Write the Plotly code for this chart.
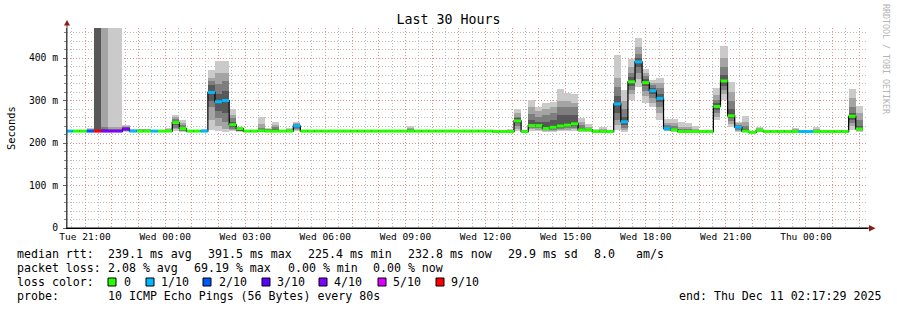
import pandas as pd
import plotly.graph_objects as go

# ---------------- data ----------------
BIN_FIRST = "2025-12-09 20:16:00"   # first 16-minute consolidation bin
BIN_MINUTES = 16

median_ms = [
    228, 228, 228, 228, 228, 228, 228, 228, 233, 228,
    228, 228, 228, 228, 228, 248, 234, 228, 228, 228,
    319, 297, 300, 243, 234, 228, 228, 229, 228, 228,
    228, 228, 240, 228, 228, 228, 228, 228, 228, 228,
    228, 228, 228, 228, 228, 228, 228, 228, 228, 228,
    228, 228, 228, 228, 228, 228, 228, 228, 228, 228,
    227, 227, 227, 252, 227, 241, 241, 234, 237, 240,
    242, 245, 231, 231, 227, 227, 227, 292, 250, 344,
    391, 342, 323, 305, 234, 231, 227, 227, 227, 227,
    227, 286, 346, 264, 237, 228, 225, 230, 227, 227,
    227, 227, 227, 227, 227, 227, 227, 227, 227, 227,
    263, 233,
]

# loss level index per bin: 0 -> "0", 1 -> "1/10", 2 -> "2/10", 3 -> "3/10",
# 4 -> "4/10", 5 -> "5/10", 6 -> "9/10"
loss_level = [
    1, 0, 0, 2, 6, 4, 4, 4, 4, 1,
    0, 0, 1, 0, 0, 0, 0, 0, 0, 1,
    1, 1, 1, 0, 0, 0, 0, 0, 0, 0,
    0, 0, 1, 0, 0, 0, 0, 0, 0, 0,
    0, 0, 0, 0, 0, 0, 0, 0, 0, 0,
    0, 0, 0, 0, 0, 0, 0, 0, 0, 0,
    0, 0, 0, 0, 0, 0, 0, 0, 0, 0,
    0, 0, 0, 0, 0, 0, 0, 1, 1, 0,
    1, 0, 1, 1, 1, 0, 0, 0, 0, 0,
    0, 0, 0, 0, 1, 0, 0, 0, 0, 0,
    0, 0, 0, 1, 1, 0, 0, 0, 0, 0,
    0, 0,
]

# sorted ping values (ms) per bin: 1st,2nd,3rd,4th and 7th,8th,9th,10th of 10
ping1 = [
    226, 226, 226, 226, 226, 226, 226, 226, 227, 226,
    226, 226, 226, 226, 226, 229, 227, 226, 226, 226,
    231, 228, 226, 228, 227, 226, 226, 226, 226, 226,
    226, 226, 228, 226, 226, 226, 226, 226, 226, 226,
    226, 226, 226, 226, 226, 226, 226, 226, 226, 226,
    226, 226, 226, 226, 226, 226, 226, 226, 226, 226,
    225, 225, 225, 228, 225, 228, 228, 227, 227, 228,
    228, 228, 227, 226, 225, 225, 225, 231, 226, 301,
    332, 293, 285, 254, 228, 227, 225, 225, 225, 225,
    225, 254, 301, 238, 227, 225, 224, 226, 225, 225,
    225, 225, 225, 225, 225, 225, 225, 225, 225, 225,
    230, 227,
]
ping2 = [
    227, 227, 227, 227, 226, 227, 227, 227, 228, 227,
    227, 227, 227, 227, 227, 232, 228, 227, 227, 227,
    254, 240, 232, 230, 228, 227, 227, 227, 227, 227,
    227, 227, 230, 227, 227, 227, 227, 227, 227, 227,
    227, 227, 227, 227, 227, 227, 227, 227, 227, 227,
    227, 227, 227, 227, 227, 227, 227, 227, 227, 227,
    226, 226, 226, 233, 226, 232, 231, 229, 229, 230,
    231, 232, 228, 228, 226, 226, 226, 242, 230, 315,
    350, 310, 295, 270, 229, 228, 226, 226, 226, 226,
    226, 262, 315, 245, 229, 226, 224, 227, 226, 226,
    226, 226, 226, 226, 226, 226, 226, 226, 226, 226,
    240, 229,
]
ping3 = [
    227, 227, 227, 227, 227, 227, 227, 227, 229, 227,
    227, 227, 227, 227, 227, 236, 229, 227, 227, 227,
    285, 258, 250, 233, 229, 227, 227, 228, 227, 228,
    227, 227, 233, 227, 227, 227, 227, 227, 227, 227,
    227, 227, 227, 227, 227, 227, 227, 227, 227, 227,
    227, 227, 227, 227, 227, 227, 227, 227, 227, 227,
    226, 226, 226, 240, 226, 236, 235, 231, 231, 233,
    235, 236, 229, 229, 226, 226, 226, 254, 235, 325,
    365, 322, 305, 285, 230, 229, 226, 226, 226, 226,
    226, 270, 325, 252, 231, 227, 225, 228, 226, 226,
    226, 226, 226, 226, 226, 226, 226, 226, 226, 226,
    248, 231,
]
ping4 = [
    228, 228, 228, 228, 227, 228, 228, 228, 230, 228,
    228, 228, 228, 228, 228, 242, 231, 228, 228, 228,
    300, 275, 270, 237, 230, 228, 228, 229, 228, 229,
    228, 228, 236, 228, 228, 228, 228, 228, 228, 228,
    228, 228, 228, 228, 228, 228, 228, 228, 228, 228,
    228, 228, 228, 228, 228, 228, 228, 228, 228, 228,
    227, 227, 227, 246, 227, 238, 238, 232, 234, 236,
    238, 240, 230, 230, 227, 227, 227, 270, 242, 335,
    380, 335, 315, 297, 232, 230, 227, 227, 227, 227,
    227, 278, 335, 258, 233, 228, 225, 229, 227, 227,
    227, 227, 227, 227, 227, 227, 227, 227, 227, 227,
    255, 232,
]
ping7 = [
    229, 229, 229, 229, 1000, 232, 230, 230, 236, 229,
    229, 229, 229, 229, 229, 252, 238, 229, 229, 229,
    336, 315, 322, 250, 234, 229, 229, 232, 230, 233,
    229, 230, 242, 229, 229, 229, 229, 229, 229, 229,
    229, 229, 229, 229, 229, 229, 229, 229, 230, 229,
    229, 229, 229, 229, 229, 229, 229, 229, 229, 229,
    228, 228, 228, 258, 228, 255, 250, 250, 255, 265,
    265, 265, 236, 232, 228, 228, 228, 310, 262, 355,
    400, 350, 330, 315, 238, 234, 229, 229, 228, 228,
    228, 293, 360, 280, 240, 232, 226, 231, 228, 228,
    228, 228, 228, 228, 228, 228, 228, 228, 228, 228,
    270, 240,
]
ping8 = [
    229, 229, 229, 230, 1000, 238, 233, 233, 238, 230,
    230, 230, 229, 229, 230, 256, 243, 229, 229, 230,
    345, 340, 345, 258, 235, 229, 229, 236, 232, 237,
    229, 231, 244, 229, 229, 229, 229, 229, 229, 229,
    229, 229, 229, 229, 229, 229, 229, 229, 232, 229,
    229, 229, 229, 229, 229, 229, 229, 229, 229, 229,
    229, 229, 229, 262, 229, 268, 262, 265, 270, 285,
    285, 285, 242, 234, 229, 230, 229, 332, 280, 365,
    410, 357, 336, 330, 243, 240, 232, 232, 230, 229,
    229, 302, 380, 300, 243, 240, 227, 233, 229, 229,
    229, 229, 230, 229, 229, 230, 229, 229, 229, 229,
    285, 255,
]
ping9 = [
    230, 230, 230, 232, 1000, 1000, 238, 238, 240, 231,
    232, 232, 230, 230, 232, 261, 248, 230, 230, 231,
    352, 365, 365, 266, 236, 230, 230, 245, 234, 242,
    230, 233, 246, 230, 230, 230, 230, 230, 230, 230,
    230, 230, 230, 230, 230, 230, 230, 230, 235, 230,
    230, 230, 230, 230, 230, 230, 230, 230, 230, 230,
    230, 230, 231, 270, 230, 285, 275, 280, 285, 300,
    300, 295, 250, 238, 230, 233, 230, 352, 300, 380,
    425, 365, 342, 342, 248, 248, 238, 238, 234, 230,
    230, 312, 400, 320, 246, 250, 228, 235, 230, 229,
    230, 230, 232, 230, 230, 233, 230, 229, 230, 230,
    305, 270,
]
ping10 = [
    231, 231, 231, 235, 1000, 1000, 1000, 1000, 242, 233,
    234, 234, 231, 231, 236, 266, 254, 231, 231, 232,
    372, 393, 393, 279, 238, 231, 231, 262, 236, 250,
    231, 236, 250, 231, 231, 231, 231, 231, 231, 231,
    231, 231, 231, 231, 231, 231, 231, 231, 240, 231,
    231, 231, 231, 231, 231, 231, 231, 231, 231, 231,
    231, 231, 233, 279, 231, 301, 285, 295, 297, 327,
    318, 315, 260, 244, 233, 238, 231, 407, 325, 398,
    446, 373, 348, 354, 256, 256, 249, 248, 240, 231,
    231, 329, 428, 344, 250, 263, 229, 238, 231, 230,
    231, 231, 236, 231, 231, 238, 231, 230, 231, 231,
    327, 287,
]

y_tick_vals = [0, 100, 200, 300, 400]
y_tick_text = ["0", "100 m", "200 m", "300 m", "400 m"]
x_label_hours = ["2025-12-09 21:00", "2025-12-10 00:00", "2025-12-10 03:00",
                 "2025-12-10 06:00", "2025-12-10 09:00", "2025-12-10 12:00",
                 "2025-12-10 15:00", "2025-12-10 18:00", "2025-12-10 21:00",
                 "2025-12-11 00:00"]
x_label_text = ["Tue 21:00", "Wed 00:00", "Wed 03:00", "Wed 06:00", "Wed 09:00",
                "Wed 12:00", "Wed 15:00", "Wed 18:00", "Wed 21:00", "Thu 00:00"]

loss_labels = ["0", "1/10", "2/10", "3/10", "4/10", "5/10", "9/10"]
loss_colors = ["#26ff00", "#00b8ff", "#0059ff", "#5e00ff", "#7e00ff", "#dd00ff", "#ff0000"]

stats_rtt = ["median rtt:", "239.1 ms avg", "391.5 ms max", "225.4 ms min",
             "232.8 ms now", "29.9 ms sd", "8.0", "am/s"]
stats_loss = ["packet loss:", "2.08 % avg", "69.19 % max", "0.00 % min", "0.00 % now"]
probe_text = ["probe:", "10 ICMP Echo Pings (56 Bytes) every 80s"]
end_text = "end: Thu Dec 11 02:17:29 2025"

# ---------------- geometry helpers (pixel -> paper) ----------------
W, H = 897, 310
L, R, T, B = 67, 868, 28, 228
FONT = "DejaVu Sans Mono"


def px(x):
    return (x - L) / (R - L)


def py(y):
    return (B - y) / (B - T)


n = len(median_ms)
starts = pd.date_range(BIN_FIRST, periods=n, freq=f"{BIN_MINUTES}min")
ends = starts + pd.Timedelta(minutes=BIN_MINUTES)
mids = starts + pd.Timedelta(minutes=BIN_MINUTES / 2)
bin_ms = BIN_MINUTES * 60 * 1000

fig = go.Figure()

# smoke layers (outer light -> inner dark)
layers = [(ping1, ping10, "#cacaca"), (ping2, ping9, "#a4a4a4"),
          (ping3, ping8, "#7e7e7e"), (ping4, ping7, "#585858")]
for lo, hi, col in layers:
    fig.add_trace(go.Bar(
        x=mids, base=lo, y=[h - l for h, l in zip(hi, lo)], width=bin_ms,
        marker=dict(color=col, line=dict(width=0)),
        hoverinfo="skip", showlegend=False))

# black median step line
fig.add_trace(go.Scatter(
    x=list(starts) + [ends[-1]], y=median_ms + [median_ms[-1]],
    mode="lines", line=dict(color="#000000", width=1.2, shape="hv"),
    hoverinfo="skip", showlegend=False))

# colored median segments by loss
for lvl, col in enumerate(loss_colors):
    xs, ys = [], []
    for i in range(n):
        if loss_level[i] == lvl:
            xs += [starts[i], ends[i], None]
            ys += [median_ms[i], median_ms[i], None]
    if xs:
        fig.add_trace(go.Scatter(
            x=xs, y=ys, mode="lines", line=dict(color=col, width=3),
            connectgaps=False, hoverinfo="skip", showlegend=False))

hour_ticks = pd.date_range("2025-12-09 21:00", "2025-12-11 02:00", freq="1h")
hour_text = [x_label_text[x_label_hours.index(t.strftime("%Y-%m-%d %H:%M"))]
             if t.strftime("%Y-%m-%d %H:%M") in x_label_hours else "" for t in hour_ticks]

red_grid = "rgba(240,130,130,0.8)"
grey_grid = "rgba(175,175,175,0.85)"
DOTS = "1px,2px"

fig.update_layout(
    width=W, height=H,
    margin=dict(l=L, r=W - R, t=T, b=H - B, pad=0),
    paper_bgcolor="#ffffff", plot_bgcolor="#ffffff",
    barmode="overlay", bargap=0,
    showlegend=False,
    title=dict(text="Last 30 Hours", x=0.5, xanchor="center", y=1 - 19 / H,
               yanchor="middle", font=dict(family=FONT, size=13.3, color="#000")),
    font=dict(family=FONT, color="#000"),
    xaxis=dict(
        type="date",
        range=["2025-12-09 20:19:30", "2025-12-11 02:19:30"],
        tickmode="array", tickvals=list(hour_ticks), ticktext=hour_text,
        tickfont=dict(family=FONT, size=9.5, color="#000"),
        showgrid=True, gridcolor=red_grid, griddash=DOTS, gridwidth=1,
        minor=dict(dtick=30 * 60 * 1000, tick0="2025-12-09 00:00", showgrid=True,
                   gridcolor=grey_grid, griddash=DOTS, gridwidth=1),
        showline=True, linecolor="#000", linewidth=1,
        ticks="", zeroline=False, fixedrange=True,
    ),
    yaxis=dict(
        range=[0, 470.6],
        tickmode="array", tickvals=y_tick_vals, ticktext=y_tick_text,
        tickfont=dict(family=FONT, size=9.7, color="#000"),
        showgrid=True, gridcolor=red_grid, griddash=DOTS, gridwidth=1,
        minor=dict(dtick=20, tick0=0, showgrid=True, gridcolor=grey_grid,
                   griddash=DOTS, gridwidth=1, ticks="outside", ticklen=2,
                   tickcolor="#888"),
        ticks="outside", ticklen=3, tickcolor="#666",
        ticklabelstandoff=3,
        showline=True, linecolor="#444", linewidth=1,
        zeroline=False, fixedrange=True,
    ),
)

shapes = []
# axis extensions + arrows
shapes.append(dict(type="line", xref="paper", yref="paper", x0=px(67), x1=px(67),
                   y0=py(228), y1=py(24), line=dict(color="#444", width=1)))
shapes.append(dict(type="line", xref="paper", yref="paper", x0=px(67), x1=px(870),
                   y0=py(228), y1=py(228), line=dict(color="#000", width=1)))
shapes.append(dict(type="path", xref="paper", yref="paper",
                   path=f"M {px(64)},{py(25.5)} L {px(70)},{py(25.5)} L {px(67)},{py(20)} Z",
                   fillcolor="#8b1a1a", line=dict(width=0)))
shapes.append(dict(type="path", xref="paper", yref="paper",
                   path=f"M {px(869)},{py(225)} L {px(869)},{py(231.5)} L {px(875.5)},{py(228.2)} Z",
                   fillcolor="#8b1a1a", line=dict(width=0)))

# loss color boxes
box_x = [108, 146, 203, 262, 319, 378, 436]
text_x = [123, 160, 218, 276, 333, 392, 450]
for bx, col in zip(box_x, loss_colors):
    shapes.append(dict(type="rect", xref="paper", yref="paper",
                       x0=px(bx), x1=px(bx + 8), y0=py(286), y1=py(278),
                       fillcolor=col, line=dict(color="#000", width=1)))

annotations = []


def ann(text, x, y, size=11.6, color="#000", **kw):
    return dict(text=text.replace(" ", "\u00a0"), x=px(x), y=py(y), xref="paper", yref="paper",
                xanchor="left", yanchor="middle", showarrow=False, borderpad=0,
                font=dict(family=FONT, size=size, color=color), **kw)


for txt, x in zip(stats_rtt, [16, 107, 207, 307, 407, 507, 593, 635]):
    annotations.append(ann(txt, x, 254))
for txt, x in zip(stats_loss, [16, 107, 193, 287, 372]):
    annotations.append(ann(txt, x, 268))
annotations.append(ann("loss color:", 16, 282))
for txt, x in zip(loss_labels, text_x):
    annotations.append(ann(txt, x, 282))
for txt, x in zip(probe_text, [16, 107]):
    annotations.append(ann(txt, x, 296))
annotations.append(ann(end_text, 678, 296))

# y axis title
annotations.append(dict(text="Seconds", x=px(11), y=py(128), xref="paper", yref="paper",
                        xanchor="center", yanchor="middle", showarrow=False, textangle=-90,
                        font=dict(family=FONT, size=10.4, color="#000")))
# watermark
annotations.append(dict(text="RRDTOOL / TOBI OETIKER".replace(" ", "\u00a0"), x=px(886), y=py(59),
                        xref="paper", yref="paper", xanchor="center", yanchor="middle",
                        showarrow=False, textangle=90,
                        font=dict(family=FONT, size=8.3, color="#b4b4b4")))

fig.update_layout(shapes=shapes, annotations=annotations)
fig.write_html("out.html")
